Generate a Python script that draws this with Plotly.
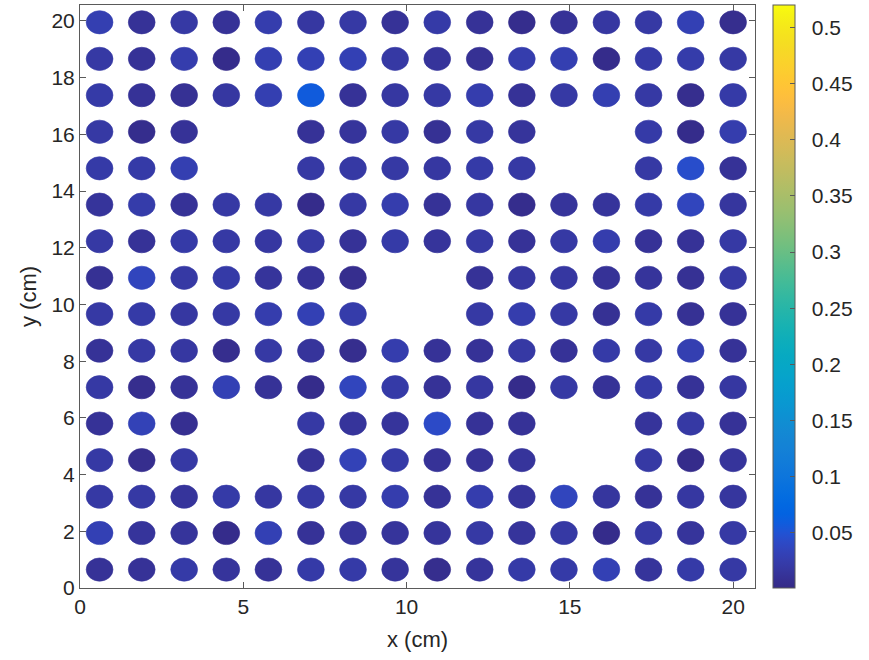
import plotly.graph_objects as go
from plotly.colors import sample_colorscale

# ---- data ----
x_cm = [0.60, 1.89, 3.19, 4.48, 5.77, 7.07, 8.36, 9.65, 10.94, 12.24, 13.53, 14.82, 16.12, 17.41, 18.70, 20.00]
y_cm = [0.65, 1.94, 3.22, 4.51, 5.80, 7.08, 8.37, 9.66, 10.94, 12.23, 13.52, 14.80, 16.09, 17.38, 18.66, 19.95]

# rows listed from bottom (y=0.65) to top (y=19.95); None = no sample
values = [
    [0.012, 0.012, 0.022, 0.014, 0.012, 0.022, 0.022, 0.014, 0.006, 0.014, 0.022, 0.022, 0.030, 0.014, 0.022, 0.020],
    [0.030, 0.014, 0.014, 0.004, 0.030, 0.012, 0.014, 0.014, 0.014, 0.020, 0.014, 0.020, 0.004, 0.020, 0.014, 0.020],
    [0.020, 0.020, 0.014, 0.022, 0.018, 0.020, 0.020, 0.026, 0.012, 0.026, 0.014, 0.036, 0.016, 0.012, 0.018, 0.016],
    [0.020, 0.006, 0.020, None, None, 0.012, 0.032, 0.022, 0.012, 0.012, 0.014, None, None, 0.020, 0.004, 0.014],
    [0.012, 0.032, 0.008, None, None, 0.020, 0.014, 0.014, 0.042, 0.012, 0.012, None, None, 0.014, 0.020, 0.012],
    [0.020, 0.006, 0.012, 0.030, 0.012, 0.004, 0.036, 0.022, 0.012, 0.018, 0.004, 0.020, 0.012, 0.022, 0.012, 0.018],
    [0.012, 0.020, 0.018, 0.006, 0.020, 0.014, 0.006, 0.026, 0.012, 0.012, 0.020, 0.012, 0.022, 0.020, 0.028, 0.012],
    [0.020, 0.022, 0.018, 0.020, 0.026, 0.030, 0.024, None, None, 0.020, 0.026, 0.020, 0.010, 0.022, 0.010, 0.012],
    [0.010, 0.036, 0.020, 0.022, 0.014, 0.012, 0.006, None, None, 0.012, 0.018, 0.018, 0.012, 0.014, 0.010, 0.020],
    [0.020, 0.012, 0.022, 0.020, 0.018, 0.020, 0.012, 0.022, 0.014, 0.020, 0.012, 0.020, 0.026, 0.012, 0.012, 0.020],
    [0.014, 0.024, 0.012, 0.020, 0.020, 0.004, 0.020, 0.026, 0.012, 0.018, 0.005, 0.014, 0.014, 0.022, 0.036, 0.016],
    [0.022, 0.022, 0.028, None, None, 0.020, 0.020, 0.020, 0.018, 0.022, 0.020, None, None, 0.020, 0.045, 0.012],
    [0.020, 0.005, 0.012, None, None, 0.012, 0.014, 0.020, 0.010, 0.020, 0.014, None, None, 0.022, 0.004, 0.026],
    [0.022, 0.012, 0.010, 0.018, 0.028, 0.058, 0.012, 0.018, 0.020, 0.026, 0.012, 0.020, 0.028, 0.020, 0.006, 0.022],
    [0.020, 0.012, 0.026, 0.004, 0.028, 0.030, 0.030, 0.020, 0.014, 0.010, 0.026, 0.028, 0.004, 0.022, 0.024, 0.020],
    [0.028, 0.012, 0.020, 0.012, 0.026, 0.018, 0.020, 0.012, 0.022, 0.012, 0.005, 0.012, 0.018, 0.020, 0.030, 0.006],
]

cbar_ticks = [0.05, 0.1, 0.15, 0.2, 0.25, 0.3, 0.35, 0.4, 0.45, 0.5]
cbar_labels = ["0.05", "0.1", "0.15", "0.2", "0.25", "0.3", "0.35", "0.4", "0.45", "0.5"]
x_ticks = [0, 5, 10, 15, 20]
y_ticks = [0, 2, 4, 6, 8, 10, 12, 14, 16, 18, 20]

# ---- styling ----
parula_rgb = [
    (0.2081, 0.1663, 0.5292), (0.2116, 0.1898, 0.5777), (0.2123, 0.2138, 0.6270), (0.2081, 0.2386, 0.6771),
    (0.1959, 0.2645, 0.7279), (0.1707, 0.2919, 0.7792), (0.1253, 0.3242, 0.8303), (0.0591, 0.3598, 0.8683),
    (0.0117, 0.3875, 0.8820), (0.0060, 0.4086, 0.8828), (0.0165, 0.4266, 0.8786), (0.0329, 0.4430, 0.8720),
    (0.0498, 0.4586, 0.8641), (0.0629, 0.4737, 0.8554), (0.0723, 0.4887, 0.8467), (0.0779, 0.5040, 0.8384),
    (0.0793, 0.5200, 0.8312), (0.0749, 0.5375, 0.8263), (0.0641, 0.5570, 0.8240), (0.0488, 0.5772, 0.8228),
    (0.0343, 0.5966, 0.8199), (0.0265, 0.6137, 0.8135), (0.0239, 0.6287, 0.8038), (0.0231, 0.6418, 0.7913),
    (0.0228, 0.6535, 0.7768), (0.0267, 0.6642, 0.7607), (0.0384, 0.6743, 0.7436), (0.0590, 0.6838, 0.7254),
    (0.0843, 0.6928, 0.7062), (0.1133, 0.7015, 0.6859), (0.1453, 0.7098, 0.6646), (0.1801, 0.7177, 0.6424),
    (0.2178, 0.7250, 0.6193), (0.2586, 0.7317, 0.5954), (0.3022, 0.7376, 0.5712), (0.3482, 0.7424, 0.5473),
    (0.3953, 0.7459, 0.5244), (0.4420, 0.7481, 0.5033), (0.4871, 0.7491, 0.4840), (0.5300, 0.7491, 0.4661),
    (0.5709, 0.7485, 0.4494), (0.6099, 0.7473, 0.4337), (0.6473, 0.7456, 0.4188), (0.6834, 0.7435, 0.4044),
    (0.7184, 0.7411, 0.3905), (0.7525, 0.7384, 0.3768), (0.7858, 0.7356, 0.3633), (0.8185, 0.7327, 0.3498),
    (0.8507, 0.7299, 0.3360), (0.8824, 0.7274, 0.3217), (0.9139, 0.7258, 0.3063), (0.9450, 0.7261, 0.2886),
    (0.9739, 0.7314, 0.2666), (0.9938, 0.7455, 0.2403), (0.9990, 0.7653, 0.2164), (0.9955, 0.7861, 0.1967),
    (0.9880, 0.8066, 0.1794), (0.9789, 0.8271, 0.1633), (0.9697, 0.8481, 0.1475), (0.9626, 0.8705, 0.1309),
    (0.9589, 0.8949, 0.1132), (0.9598, 0.9218, 0.0948), (0.9661, 0.9514, 0.0755), (0.9763, 0.9831, 0.0538),
]
n = len(parula_rgb)
parula = [[i / (n - 1), "rgb(%d,%d,%d)" % tuple(round(c * 255) for c in rgb)] for i, rgb in enumerate(parula_rgb)]

cmin, cmax = 0.001, 0.52
radius = 0.41
font_family = "Liberation Sans, Arial, Helvetica, sans-serif"
ink = "#262626"
axis_col = "#5a5a5a"
tick_size = 21
title_size = 22
label_pad = "\u00a0\u00a0"

xs, ys, vs = [], [], []
for r, row in enumerate(values):
    for c, v in enumerate(row):
        if v is None:
            continue
        xs.append(x_cm[c]); ys.append(y_cm[r]); vs.append(v)

fig = go.Figure()
fig.add_trace(go.Scatter(
    x=xs, y=ys, mode="markers",
    marker=dict(size=20, color=vs, colorscale=parula, cmin=cmin, cmax=cmax,
                line=dict(width=0), showscale=True,
                colorbar=dict(thickness=22, len=1, lenmode="fraction", y=0, yanchor="bottom",
                              x=1.027, xanchor="left", xpad=0, ypad=0,
                              outlinecolor=axis_col, outlinewidth=1,
                              ticks="inside", ticklen=5, tickcolor=axis_col,
                              tickvals=cbar_ticks, ticktext=[label_pad + t for t in cbar_labels],
                              tickfont=dict(size=tick_size, color=ink, family=font_family))),
    hovertemplate="x=%{x}<br>y=%{y}<br>%{marker.color}<extra></extra>",
    showlegend=False,
))

fills = sample_colorscale(parula, [(v - cmin) / (cmax - cmin) for v in vs])
shapes = []
for x, y, col in zip(xs, ys, fills):
    shapes.append(dict(type="circle", xref="x", yref="y",
                       x0=x - radius, x1=x + radius, y0=y - radius, y1=y + radius,
                       fillcolor=col, line=dict(width=0.6, color=col), layer="above"))

axis_common = dict(showgrid=False, zeroline=False, showline=True, mirror="ticks",
                   linecolor=axis_col, linewidth=1, ticks="inside", ticklen=6,
                   tickcolor=axis_col, automargin=False,
                   tickfont=dict(size=tick_size, color=ink, family=font_family))

fig.update_layout(
    width=869, height=660,
    margin=dict(l=80, r=114, t=5, b=72, autoexpand=False),
    paper_bgcolor="white", plot_bgcolor="white",
    shapes=shapes,
    font=dict(family=font_family, color=ink),
    xaxis=dict(range=[0, 20.67], tickvals=x_ticks,
               title=dict(text="x (cm)", font=dict(size=title_size, color=ink), standoff=14), **axis_common),
    yaxis=dict(range=[0, 20.56], tickvals=y_ticks,
               title=dict(text="y (cm)", font=dict(size=title_size, color=ink), standoff=8), **axis_common),
)

fig.write_html("out.html", config={"displayModeBar": False},
               post_script="document.body.style.margin='0';document.body.style.overflow='hidden';")
